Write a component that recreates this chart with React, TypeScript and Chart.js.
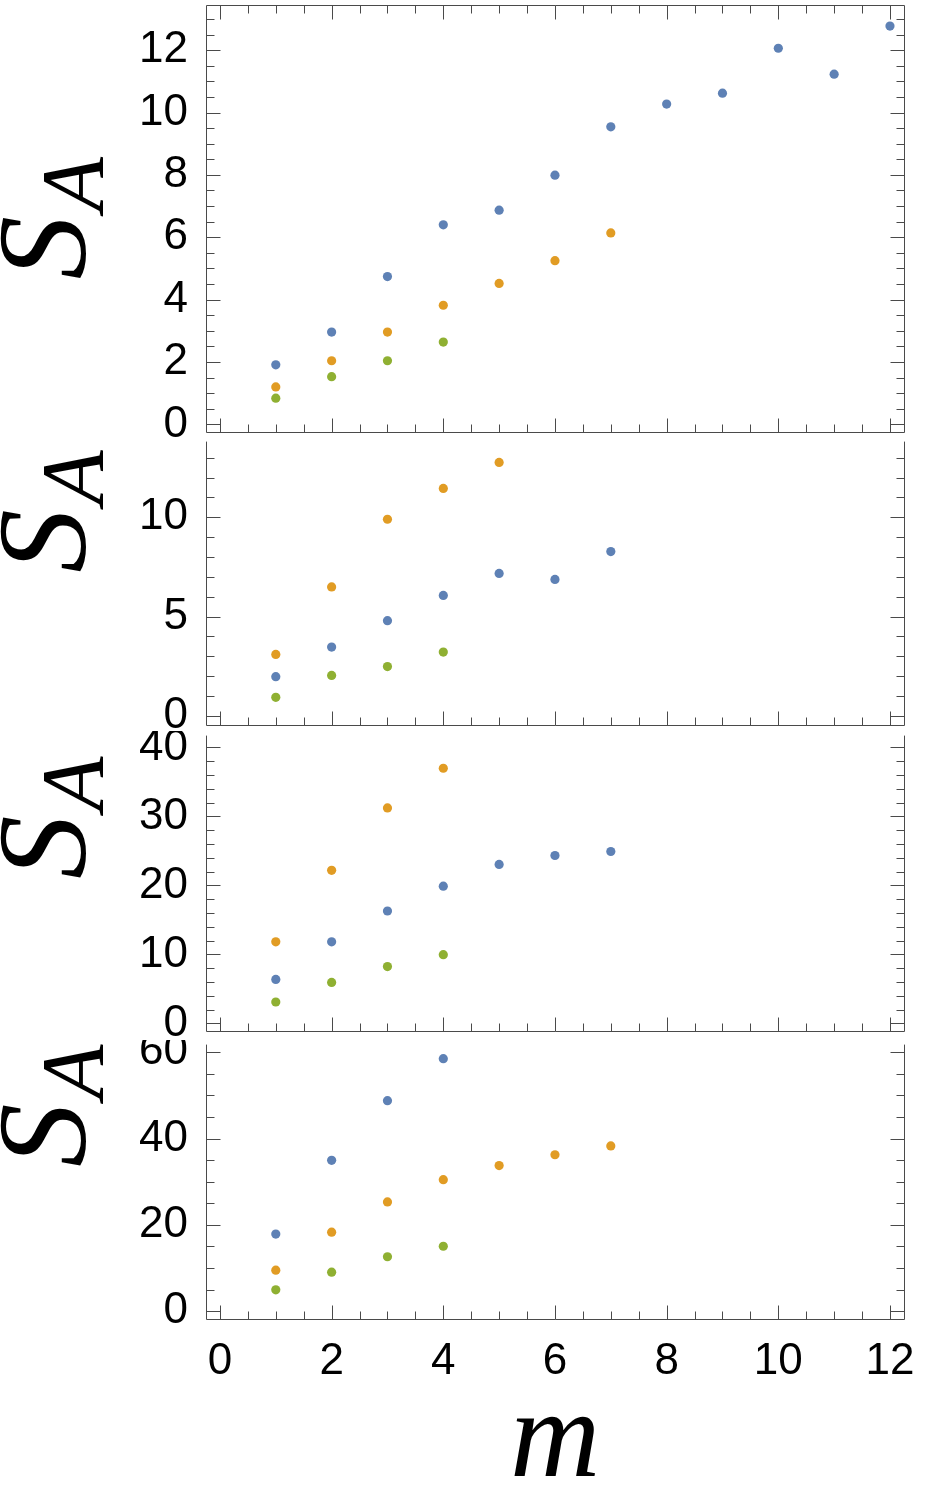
import React, { useEffect, useRef } from "react";
import { Chart, registerables } from "chart.js";

Chart.register(...registerables);

// ---------- data ----------
const M = [1, 2, 3, 4, 5, 6, 7, 8, 9, 10, 11, 12];

const p1Blue = [1.91, 2.96, 4.74, 6.4, 6.87, 7.99, 9.54, 10.27, 10.62, 12.06, 11.23, 12.77];
const p1Orange = [1.2, 2.04, 2.96, 3.82, 4.52, 5.25, 6.14];
const p1Green = [0.84, 1.53, 2.04, 2.64];

const p2Blue = [1.97, 3.46, 4.79, 6.06, 7.17, 6.87, 8.27];
const p2Orange = [3.09, 6.49, 9.9, 11.45, 12.76];
const p2Green = [0.93, 2.03, 2.48, 3.21];

const p3Blue = [6.37, 11.83, 16.29, 19.89, 23.04, 24.34, 24.92];
const p3Orange = [11.83, 22.19, 31.24, 36.99];
const p3Green = [3.1, 5.94, 8.24, 9.96];

const p4Blue = [17.85, 34.94, 48.77, 58.5];
const p4Orange = [9.5, 18.3, 25.3, 30.47, 33.73, 36.24, 38.29];
const p4Green = [4.94, 9.04, 12.6, 15.04];

const xTicks = [0, 2, 4, 6, 8, 10, 12];
const p1YTicks = [0, 2, 4, 6, 8, 10, 12];
const p2YTicks = [0, 5, 10];
const p3YTicks = [0, 10, 20, 30, 40];
const p4YTicks = [0, 20, 40, 60];

const xRange = [-0.25, 12.26];
const p1YRange = [-0.26, 13.46];
const p2YRange = [-0.5, 13.81];
const p3YRange = [-1.25, 41.72];
const p4YRange = [-2.05, 61.76];

const xLabel = "m";
const yLabelMain = "S";
const yLabelSub = "A";

// ---------- styles ----------
const BLUE = "#5E81B5";
const ORANGE = "#E19C24";
const GREEN = "#8FB032";
const FRAME = "#4a4a4a";
const W = 926;

type PanelCfg = {
  top: number;
  height: number;
  padTop: number;
  padBottom: number;
  blue: number[];
  orange: number[];
  green: number[];
  yTicks: number[];
  yRange: number[];
  yMinor: number;
  yMajor: number;
  showX: boolean;
  topFrame: boolean;
};

const panels: PanelCfg[] = [
  { top: 0, height: 470, padTop: 1, padBottom: 37.5, blue: p1Blue, orange: p1Orange, green: p1Green, yTicks: p1YTicks, yRange: p1YRange, yMinor: 0.5, yMajor: 2, showX: false, topFrame: true },
  { top: 437, height: 320, padTop: 2, padBottom: 31.3, blue: p2Blue, orange: p2Orange, green: p2Green, yTicks: p2YTicks, yRange: p2YRange, yMinor: 1, yMajor: 5, showX: false, topFrame: false },
  { top: 731, height: 330, padTop: 2, padBottom: 29, blue: p3Blue, orange: p3Orange, green: p3Green, yTicks: p3YTicks, yRange: p3YRange, yMinor: 2, yMajor: 10, showX: false, topFrame: false },
  { top: 1040, height: 456, padTop: 0, padBottom: 0, blue: p4Blue, orange: p4Orange, green: p4Green, yTicks: p4YTicks, yRange: p4YRange, yMinor: 5, yMajor: 20, showX: true, topFrame: false },
];

const toPts = (vals: number[]) => vals.map((v, i) => ({ x: M[i], y: v }));

function tickValues(min: number, max: number, step: number) {
  const out: number[] = [];
  const start = Math.ceil(min / step - 1e-9);
  for (let k = start; k * step <= max + 1e-9; k++) out.push(k * step);
  return out;
}

const frameTicks = {
  id: "frameTicks",
  afterDatasetsDraw(chart: any, _args: any, opts: any) {
    const { ctx, chartArea: ca, scales } = chart;
    const xs = scales.x;
    const ys = scales.y;
    const L = Math.round(ca.left) + 0.5;
    const R = Math.round(ca.right) - 0.5;
    const T = Math.round(ca.top) + 0.5;
    const B = Math.round(ca.bottom) - 0.5;
    ctx.save();
    ctx.strokeStyle = FRAME;
    ctx.lineWidth = 1;
    ctx.beginPath();
    ctx.moveTo(L, opts.topFrame ? T : ca.top);
    ctx.lineTo(L, B);
    ctx.lineTo(R, B);
    ctx.lineTo(R, opts.topFrame ? T : ca.top);
    if (opts.topFrame) ctx.lineTo(L, T);
    ctx.stroke();

    const MAJ = 14;
    const MIN = 8;
    const isMajor = (v: number, step: number) => Math.abs(v / step - Math.round(v / step)) < 1e-6;

    ctx.beginPath();
    for (const v of tickValues(xs.min, xs.max, 0.5)) {
      const px = Math.round(xs.getPixelForValue(v)) + 0.5;
      const len = isMajor(v, 2) ? MAJ : MIN;
      ctx.moveTo(px, B);
      ctx.lineTo(px, B - len);
      if (opts.topFrame) {
        ctx.moveTo(px, T);
        ctx.lineTo(px, T + len);
      }
    }
    for (const v of tickValues(ys.min, ys.max, opts.yMinor)) {
      const py = Math.round(ys.getPixelForValue(v)) + 0.5;
      const len = isMajor(v, opts.yMajor) ? MAJ : MIN;
      ctx.moveTo(L, py);
      ctx.lineTo(L + len, py);
      ctx.moveTo(R, py);
      ctx.lineTo(R - len, py);
    }
    ctx.stroke();
    ctx.restore();
  },
};

const yTitle = {
  id: "yTitle",
  afterDraw(chart: any) {
    const { ctx, chartArea: ca } = chart;
    ctx.save();
    ctx.fillStyle = "#000";
    ctx.textAlign = "left";
    ctx.textBaseline = "alphabetic";
    ctx.translate(85, ca.bottom - 153);
    ctx.rotate(-Math.PI / 2);
    ctx.font = 'italic 127px "Liberation Serif"';
    ctx.fillText(yLabelMain, 0, 0);
    ctx.restore();

    ctx.save();
    ctx.fillStyle = "#000";
    ctx.textAlign = "left";
    ctx.textBaseline = "alphabetic";
    ctx.translate(102, ca.bottom - 221);
    ctx.rotate(-Math.PI / 2);
    ctx.font = 'italic 89px "Liberation Serif"';
    ctx.fillText(yLabelSub, 0, 0);
    ctx.restore();
  },
};

function buildConfig(p: PanelCfg): any {
  const ds = (label: string, vals: number[], color: string) => ({
    label,
    data: toPts(vals),
    backgroundColor: color,
    borderColor: color,
    pointBackgroundColor: color,
    pointBorderWidth: 0,
    pointRadius: 4.6,
    pointHoverRadius: 4.6,
  });
  return {
    type: "scatter",
    data: {
      datasets: [ds("blue", p.blue, BLUE), ds("orange", p.orange, ORANGE), ds("green", p.green, GREEN)],
    },
    plugins: [frameTicks, yTitle],
    options: {
      animation: false,
      responsive: false,
      devicePixelRatio: 1,
      events: [],
      layout: { padding: { left: 0, right: 21.5, top: p.padTop, bottom: p.padBottom } },
      plugins: {
        legend: { display: false },
        tooltip: { enabled: false },
        frameTicks: { topFrame: p.topFrame, yMinor: p.yMinor, yMajor: p.yMajor },
      },
      scales: {
        x: {
          type: "linear",
          position: "bottom",
          min: xRange[0],
          max: xRange[1],
          display: p.showX,
          grid: { display: false, drawTicks: false },
          border: { display: false },
          afterBuildTicks: (s: any) => {
            s.ticks = xTicks.map((v) => ({ value: v }));
          },
          ticks: {
            font: { family: "Liberation Sans", size: 44 },
            color: "#000",
            padding: 15,
            autoSkip: false,
            maxRotation: 0,
            minRotation: 0,
          },
          title: {
            display: p.showX,
            text: xLabel,
            color: "#000",
            font: { family: "Liberation Serif", style: "italic", size: 125, lineHeight: 0.85 },
            padding: { top: 0, bottom: 0 },
          },
          afterFit: (s: any) => {
            if (p.showX) {
              s.height = 176;
              s.paddingLeft = 0;
              s.paddingRight = 0;
            }
          },
        },
        y: {
          type: "linear",
          position: "left",
          min: p.yRange[0],
          max: p.yRange[1],
          grid: { display: false, drawTicks: false },
          border: { display: false },
          afterBuildTicks: (s: any) => {
            s.ticks = p.yTicks.map((v) => ({ value: v }));
          },
          ticks: {
            font: { family: "Liberation Sans", size: 44 },
            color: "#000",
            padding: 18,
            autoSkip: false,
          },
          afterFit: (s: any) => {
            s.width = 206;
            s.paddingTop = 0;
            s.paddingBottom = 0;
          },
        },
      },
    },
  };
}

function Panel({ cfg }: { cfg: PanelCfg }) {
  const ref = useRef<HTMLCanvasElement>(null);
  useEffect(() => {
    const chart = new Chart(ref.current as HTMLCanvasElement, buildConfig(cfg));
    return () => chart.destroy();
  }, [cfg]);
  return (
    <canvas
      ref={ref}
      width={W}
      height={cfg.height}
      style={{ position: "absolute", left: 0, top: cfg.top, width: W, height: cfg.height, display: "block" }}
    />
  );
}

export default function App() {
  return (
    <div style={{ position: "absolute", left: 0, top: 0, width: W, height: 1496, background: "#fff", overflow: "hidden" }}>
      {panels.map((p, i) => (
        <Panel key={i} cfg={p} />
      ))}
    </div>
  );
}
